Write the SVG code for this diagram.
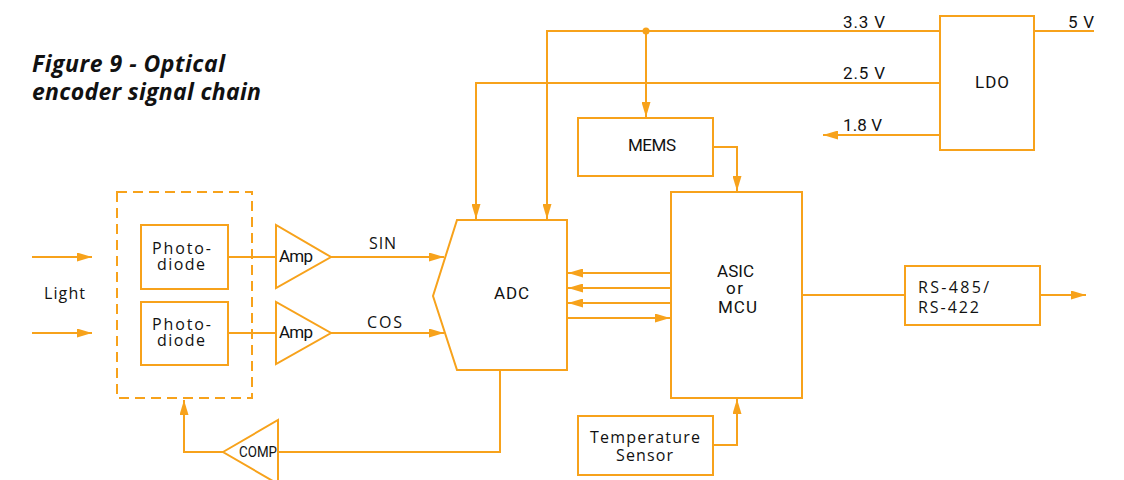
<svg xmlns="http://www.w3.org/2000/svg" width="1124" height="480" viewBox="0 0 1124 480">
<style>
.b{fill:#fff;stroke:#F7A21B;stroke-width:2}
.l{fill:none;stroke:#F7A21B;stroke-width:2}
.t{font-family:"Open Sans","DejaVu Sans",sans-serif;font-size:16px;fill:#111}
.r{font-family:Roboto,"Liberation Sans",sans-serif;font-size:17px;fill:#111}
.h{font-family:"Open Sans","DejaVu Sans",sans-serif;font-size:23px;font-weight:bold;font-style:italic;fill:#111}
</style>
<defs>
<marker id="a" viewBox="0 0 15 9" refX="15" refY="4.5" markerWidth="15" markerHeight="9" markerUnits="userSpaceOnUse" orient="auto">
<path d="M0,0 L15,4.5 L0,9 Z" fill="#F7A21B"/>
</marker>
</defs>
<rect width="1124" height="480" fill="#fff"/>
<g id="title">
<text class="h" x="32" y="72" textLength="193">Figure 9 - Optical</text>
<text class="h" x="32" y="100" textLength="229">encoder signal chain</text>
</g>
<g id="connectors">
<line class="l" x1="1034" y1="31" x2="1094" y2="31"/>
<polyline class="l" points="940,31 547,31 547,219" marker-end="url(#a)"/>
<line class="l" x1="646" y1="31" x2="646" y2="117" marker-end="url(#a)"/>
<circle cx="646" cy="31" r="3.5" fill="#F7A21B"/>
<polyline class="l" points="940,83 476,83 476,219" marker-end="url(#a)"/>
<line class="l" x1="940" y1="135" x2="823" y2="135" marker-end="url(#a)"/>
<polyline class="l" points="713,147 737,147 737,191" marker-end="url(#a)"/>
<polyline class="l" points="713,445 737,445 737,399" marker-end="url(#a)"/>
<line class="l" x1="671" y1="273" x2="568" y2="273" marker-end="url(#a)"/>
<line class="l" x1="671" y1="288" x2="568" y2="288" marker-end="url(#a)"/>
<line class="l" x1="671" y1="303" x2="568" y2="303" marker-end="url(#a)"/>
<line class="l" x1="567" y1="318" x2="670" y2="318" marker-end="url(#a)"/>
<line class="l" x1="802" y1="295" x2="905" y2="295"/>
<line class="l" x1="1040" y1="295" x2="1086" y2="295" marker-end="url(#a)"/>
<line class="l" x1="32" y1="257" x2="92" y2="257" marker-end="url(#a)"/>
<line class="l" x1="32" y1="333" x2="92" y2="333" marker-end="url(#a)"/>
<line class="l" x1="228" y1="257" x2="276" y2="257"/>
<line class="l" x1="228" y1="333" x2="276" y2="333"/>
<line class="l" x1="331" y1="257" x2="444" y2="257" marker-end="url(#a)"/>
<line class="l" x1="331" y1="333" x2="444" y2="333" marker-end="url(#a)"/>
<polyline class="l" points="500,370 500,452 278,452"/>
<polyline class="l" points="223,452 184,452 184,400" marker-end="url(#a)"/>
<text class="t" x="369" y="249" textLength="27">SIN</text>
<text class="t" x="367" y="328" textLength="35">COS</text>
<text class="r" x="843" y="28" textLength="42">3.3 V</text>
<text class="r" x="843" y="79" textLength="42">2.5 V</text>
<text class="r" x="843" y="131" textLength="39">1.8 V</text>
<text class="r" x="1068" y="28" textLength="26">5 V</text>
<text class="t" x="44" y="299" textLength="41">Light</text>
</g>
<g id="ldo">
<rect class="b" x="940" y="16" width="94" height="134"/>
<text class="r" x="975" y="88" textLength="34">LDO</text>
</g>
<g id="mems">
<rect class="b" x="578" y="118" width="135" height="58"/>
<text class="r" x="628" y="151" textLength="48">MEMS</text>
</g>
<g id="asic">
<rect class="b" x="671" y="192" width="131" height="206"/>
<text class="r" x="717" y="277" textLength="37">ASIC</text>
<text class="r" x="726" y="294" textLength="17">or</text>
<text class="r" x="718" y="313" textLength="39">MCU</text>
</g>
<g id="adc">
<polygon class="b" points="457,220 567,220 567,370 457,370 433,296"/>
<text class="r" x="494" y="299" textLength="35">ADC</text>
</g>
<g id="rs">
<rect class="b" x="905" y="266" width="135" height="59"/>
<text class="t" x="918" y="293" textLength="71">RS-485/</text>
<text class="t" x="918" y="313" textLength="61">RS-422</text>
</g>
<g id="temp">
<rect class="b" x="578" y="416" width="135" height="59"/>
<text class="t" x="590" y="443" textLength="110">Temperature</text>
<text class="t" x="616" y="461" textLength="57">Sensor</text>
</g>
<g id="sensor">
<rect class="l" x="117" y="192" width="135" height="206" stroke-dasharray="10,6"/>
</g>
<g id="pd1">
<rect class="b" x="141" y="225" width="87" height="64"/>
<text class="t" x="152" y="254" textLength="59">Photo-</text>
<text class="t" x="157" y="270" textLength="48">diode</text>
</g>
<g id="pd2">
<rect class="b" x="141" y="302" width="87" height="63"/>
<text class="t" x="152" y="330" textLength="59">Photo-</text>
<text class="t" x="157" y="346" textLength="48">diode</text>
</g>
<g id="amp1">
<polygon class="b" points="276,225 276,288 331,257"/>
<text class="r" x="279" y="262" textLength="34">Amp</text>
</g>
<g id="amp2">
<polygon class="b" points="276,302 276,364 331,333"/>
<text class="r" x="279" y="338" textLength="34">Amp</text>
</g>
<g id="comp">
<polygon class="b" points="223,452 278,420 278,484"/>
<text class="r" x="239" y="457" style="font-size:15px" textLength="38" lengthAdjust="spacingAndGlyphs">COMP</text>
</g>
</svg>
